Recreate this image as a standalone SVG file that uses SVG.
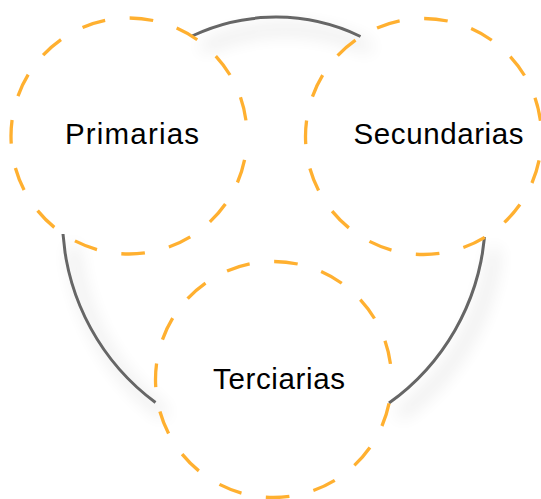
<svg xmlns="http://www.w3.org/2000/svg" width="541" height="499" viewBox="0 0 541 499">
  <defs>
    <filter id="shadow" x="-40%" y="-40%" width="180%" height="180%">
      <feGaussianBlur in="SourceAlpha" stdDeviation="9"/>
      <feOffset dx="10" dy="12" result="b"/>
      <feComponentTransfer><feFuncA type="linear" slope="0.3"/></feComponentTransfer>
      <feMerge><feMergeNode/><feMergeNode in="SourceGraphic"/></feMerge>
    </filter>
  </defs>
  <style>
    .node circle { fill: none; stroke: #FFB030; stroke-width: 3.3; stroke-dasharray: 23.7 24.7; stroke-dashoffset: 24.3; }
    .node text { font-family: "Liberation Sans", Arial, sans-serif; font-size: 29.5px; fill: #000; text-anchor: middle; }
    .conn path { fill: none; stroke: #666666; stroke-width: 3; }
  </style>
  <rect width="541" height="499" fill="#ffffff"/>
  <g id="connectors" class="conn" filter="url(#shadow)">
    <path d="M192 36 A195 195 0 0 1 360.5 36.5"/>
    <path d="M63 234 A230 230 0 0 0 155.5 402.5"/>
    <path d="M484.5 237 A230 230 0 0 1 389 403"/>
  </g>
  <g id="primarias" class="node">
    <circle cx="129" cy="136" r="118"/>
    <text x="132" y="144" textLength="134">Primarias</text>
  </g>
  <g id="secundarias" class="node">
    <circle cx="423.5" cy="136.5" r="118"/>
    <text x="438.5" y="144" textLength="170">Secundarias</text>
  </g>
  <g id="terciarias" class="node">
    <circle cx="273.5" cy="379.5" r="118"/>
    <text x="279" y="388.5" textLength="132">Terciarias</text>
  </g>
</svg>
